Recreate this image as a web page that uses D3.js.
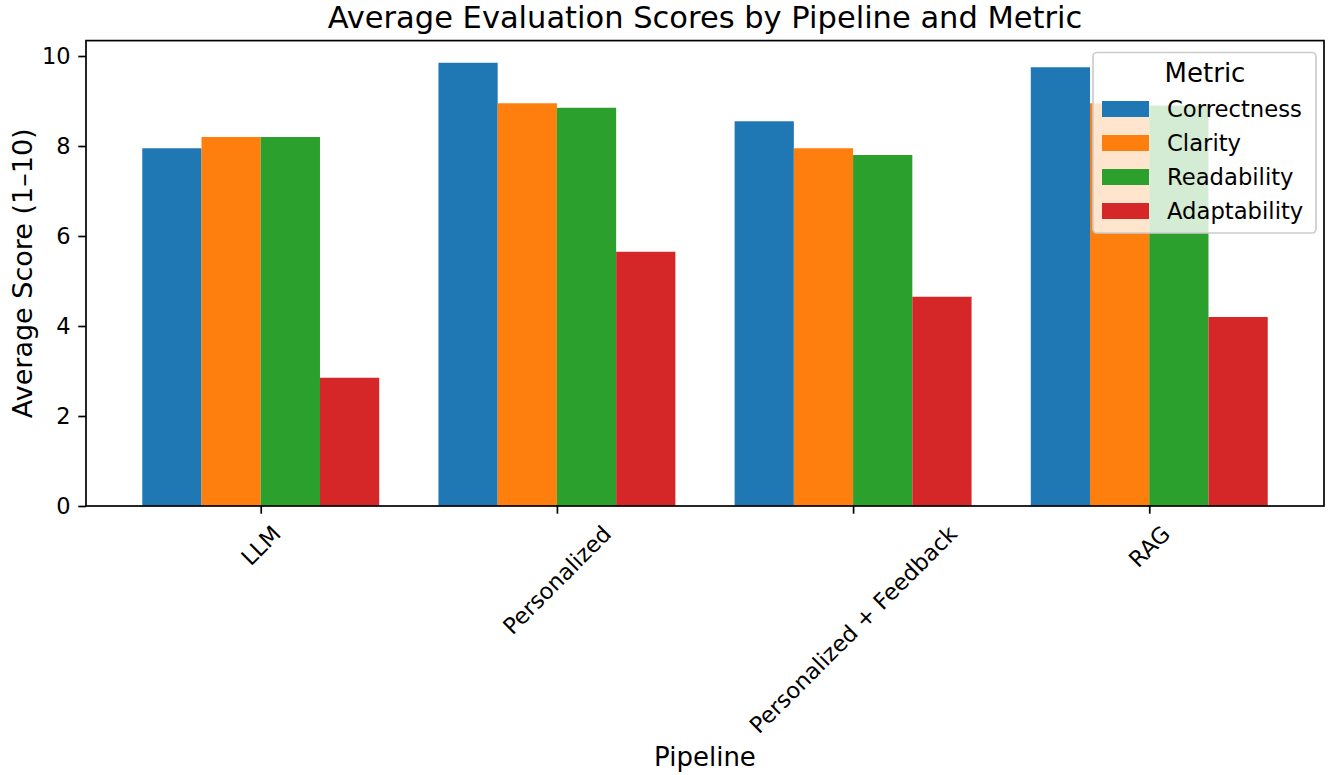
<!DOCTYPE html>
<html>
<head>
<meta charset="utf-8">
<script src="https://cdn.jsdelivr.net/npm/d3@7"></script>
<style>
  html, body { margin: 0; padding: 0; background: #fff; }
  svg { display: block; font-family: "DejaVu Sans", sans-serif; }
</style>
</head>
<body>
<svg id="chart" width="1331" height="775"></svg>
<script>
const pipelines = ["LLM", "Personalized", "Personalized + Feedback", "RAG"];
const metrics = ["Correctness", "Clarity", "Readability", "Adaptability"];
const colors = ["#1f77b4", "#ff7f0e", "#2ca02c", "#d62728"];
const correctness = [7.95, 9.85, 8.55, 9.75];
const clarity = [8.2, 8.95, 7.95, 8.95];
const readability = [8.2, 8.85, 7.8, 8.9];
const adaptability = [2.85, 5.65, 4.65, 4.2];
const yTicks = [0, 2, 4, 6, 8, 10];

const series = [correctness, clarity, readability, adaptability];
const barW = 0.2;

const svg = d3.select("#chart");
const L = 86, R = 1324, T = 40.6, B = 506;
const maxV = d3.max(series.flat());
const x = d3.scaleLinear().domain([-0.59, 3.59]).range([L, R]);
const y = d3.scaleLinear().domain([0, maxV * 1.05]).range([B, T]);

// bars
series.forEach((vals, mi) => {
  svg.append("g").selectAll("rect").data(vals).join("rect")
    .attr("x", (d, i) => x(i + (mi - 1.5) * barW - barW / 2))
    .attr("width", (d, i) => x(i + (mi - 1.5) * barW + barW / 2) - x(i + (mi - 1.5) * barW - barW / 2))
    .attr("y", d => y(d))
    .attr("height", d => B - y(d))
    .attr("fill", colors[mi]);
});

// axes
const tickLen = 7.7, pad = 7.7;
const yAxis = d3.axisLeft(y).tickValues(yTicks).tickSize(tickLen).tickPadding(pad).tickFormat(d3.format("d"));
const gy = svg.append("g").attr("transform", `translate(${L},0)`).call(yAxis);
gy.select(".domain").remove();
gy.selectAll(".tick line").attr("stroke", "#000").attr("stroke-width", 1.7);
gy.selectAll(".tick text").attr("font-size", 22.5).attr("fill", "#000").attr("font-family", "DejaVu Sans");

const xAxis = d3.axisBottom(x).tickValues(d3.range(pipelines.length)).tickSize(tickLen).tickFormat(() => "");
const gx = svg.append("g").attr("transform", `translate(0,${B})`).call(xAxis);
gx.select(".domain").remove();
gx.selectAll(".tick line").attr("stroke", "#000").attr("stroke-width", 1.7);

// rotated x tick labels (centered like matplotlib ha='center', rotation=45)
const fs = 22.5;
const labelTop = B + tickLen + pad - 1;
pipelines.forEach((p, i) => {
  const t = svg.append("text")
    .attr("font-size", fs)
    .attr("text-anchor", "middle")
    .attr("dominant-baseline", "central")
    .text(p);
  const w = t.node().getComputedTextLength();
  const h = fs * 1.17;
  const bh = (w + h) * Math.SQRT1_2;
  t.attr("transform", `translate(${x(i)},${labelTop + bh / 2}) rotate(-45)`);
});

// frame
svg.append("rect").attr("x", L).attr("y", T).attr("width", R - L).attr("height", B - T)
  .attr("fill", "none").attr("stroke", "#000").attr("stroke-width", 1.7);

// title & labels
svg.append("text").attr("x", (L + R) / 2).attr("y", 28).attr("text-anchor", "middle")
  .attr("font-size", 30.5).text("Average Evaluation Scores by Pipeline and Metric");
svg.append("text").attr("x", (L + R) / 2).attr("y", 766).attr("text-anchor", "middle")
  .attr("font-size", 26).text("Pipeline");
svg.append("text").attr("transform", `translate(32,${(T + B) / 2}) rotate(-90)`).attr("text-anchor", "middle")
  .attr("font-size", 27).text("Average Score (1–10)");

// legend
const lg = svg.append("g");
lg.append("rect").attr("x", 1093).attr("y", 52.5).attr("width", 223).attr("height", 180.5)
  .attr("rx", 4).attr("fill", "#fff").attr("fill-opacity", 0.8).attr("stroke", "#cccccc").attr("stroke-width", 1.7);
lg.append("text").attr("x", 1205).attr("y", 82).attr("text-anchor", "middle").attr("font-size", 26).text("Metric");
metrics.forEach((m, i) => {
  const cy = 109 + i * 34;
  lg.append("rect").attr("x", 1102).attr("y", cy - 8).attr("width", 47).attr("height", 16).attr("fill", colors[i]);
  lg.append("text").attr("x", 1167).attr("y", cy).attr("dominant-baseline", "central").attr("font-size", 22.7).text(m);
});
</script>
</body>
</html>
